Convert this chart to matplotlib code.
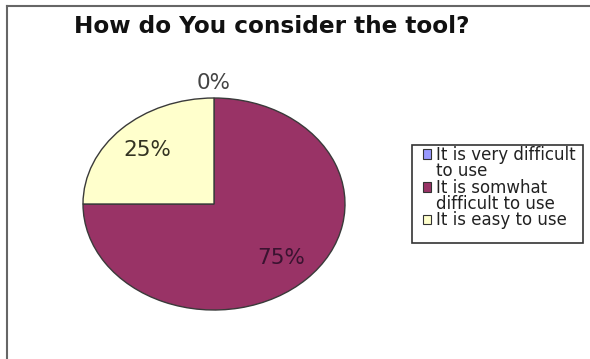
import matplotlib
matplotlib.use('Agg')
import matplotlib.pyplot as plt
from matplotlib.lines import Line2D
from matplotlib.patches import Rectangle

plt.rcParams['font.family'] = ['DejaVu Sans']

# survey answers, in the order they go round the pie
answers = ['It is very difficult\nto use',
           'It is somwhat\ndifficult to use',
           'It is easy to use']
shares = [0, 75, 25]
colors = ['#9999FF', '#993366', '#FFFFCC']
pct_colors = ['#444444', '#3a1330', '#333322']

W, H = 590, 359
fig = plt.figure(figsize=(W / 100, H / 100), dpi=100)

# slightly stretched pie: axes wider than tall, aspect left to 'auto'
cx, cy, rx, ry = 214, 204, 131, 106
ax = fig.add_axes([(cx - rx) / W, 1 - (cy + ry) / H, 2 * rx / W, 2 * ry / H])
wedges, _, pcts = ax.pie(shares, colors=colors, startangle=90,
                         counterclock=False, autopct='%1.0f%%',
                         pctdistance=0.72,
                         wedgeprops=dict(edgecolor='#3a3a3a', linewidth=1.0),
                         textprops=dict(fontsize=15.5))
ax.set_aspect('auto')
ax.set_xlim(-1, 1)
ax.set_ylim(-1, 1)

for t, v, c in zip(pcts, shares, pct_colors):
    t.set_color(c)
    if v == 0:
        # empty slice: put its label just above the rim
        t.set_position((0, 1.05))
        t.set_va('bottom')

fig.text(74 / W, 1 - 33 / H, 'How do You consider the tool?',
         fontsize=16.7, fontweight='bold', color='#111111',
         ha='left', va='baseline')

# outer chart frame (top and left edges)
fig.add_artist(Line2D([7 / W, 1.0], [1 - 6 / H, 1 - 6 / H],
                      color='#666666', linewidth=1.5))
fig.add_artist(Line2D([7 / W, 7 / W], [0.0, 1 - 6 / H],
                      color='#666666', linewidth=1.5))

# one legend row per text line; the swatch sits on the first line only
handles, labels = [], []
for answer, c in zip(answers, colors):
    for i, line in enumerate(answer.split('\n')):
        if i == 0:
            handles.append(Rectangle((0, 0), 1, 1, facecolor=c,
                                     edgecolor='#333333', linewidth=0.8))
        else:
            handles.append(Rectangle((0, 0), 1, 1, fill=False,
                                     edgecolor='none'))
        labels.append(line)
fig.legend(handles, labels, loc='upper left',
           bbox_to_anchor=(413 / W, 1 - 136 / H), frameon=False,
           fontsize=12, handlelength=0.5, handleheight=0.5,
           handletextpad=0.3, labelspacing=-0.1, borderpad=0.1,
           labelcolor='#222222')
fig.add_artist(Rectangle((412 / W, 1 - 243 / H), 171 / W, 98 / H,
                         transform=fig.transFigure, fill=False,
                         edgecolor='#333333', linewidth=1.2))

fig.savefig('out.png', dpi=100)
